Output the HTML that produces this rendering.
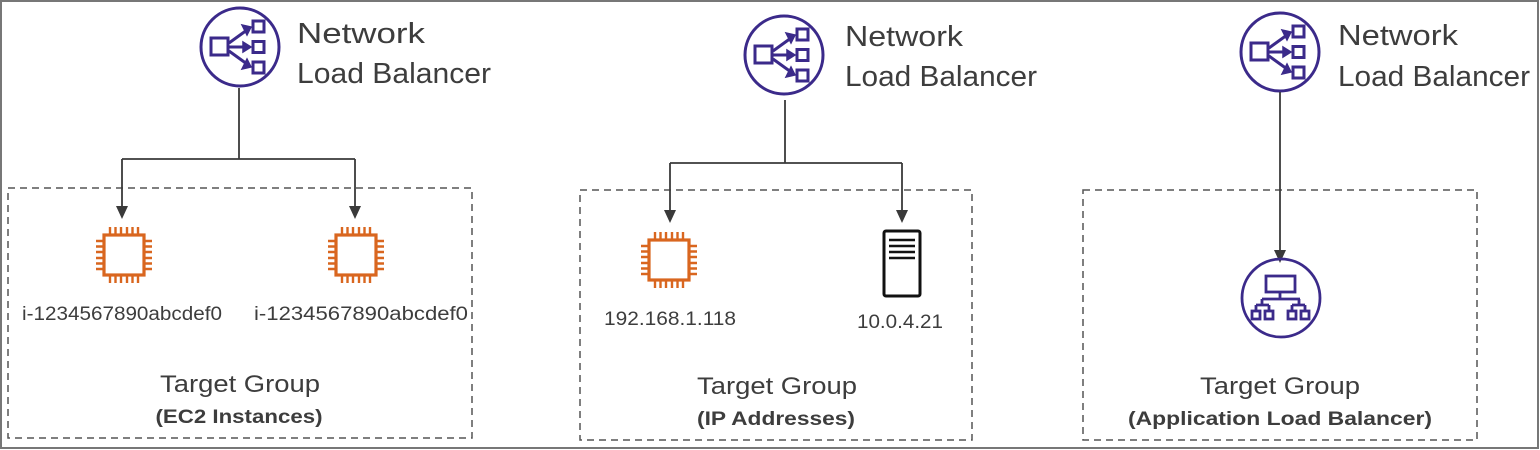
<!DOCTYPE html>
<html><head><meta charset="utf-8"><style>
html,body{margin:0;padding:0;background:#fff;}
svg{display:block;}
text{font-family:"Liberation Sans",sans-serif;fill:#3d3d3d;}
</style></head><body>
<svg width="1540" height="450" viewBox="0 0 1540 450" xmlns="http://www.w3.org/2000/svg">
<defs>
<g id="nlb">
<circle cx="0" cy="0" r="39" fill="none" stroke="#3b2a8a" stroke-width="3"/>
<rect x="-29" y="-9" width="17" height="17" fill="none" stroke="#3b2a8a" stroke-width="3"/>
<rect x="13" y="-26" width="11" height="11" fill="none" stroke="#3b2a8a" stroke-width="3"/>
<rect x="13" y="-5.5" width="11" height="11" fill="none" stroke="#3b2a8a" stroke-width="3"/>
<rect x="13" y="15" width="11" height="11" fill="none" stroke="#3b2a8a" stroke-width="3"/>
<path d="M-11,-4 L7,-17 M-11,0 L7,0 M-11,4 L7,17" stroke="#3b2a8a" stroke-width="3" fill="none"/>
<path d="M2,-22 L11,-20 L7,-12 Z M3,-5 L11,0 L3,5 Z M2,22 L11,20 L7,12 Z" fill="#3b2a8a" stroke="#3b2a8a" stroke-width="1.5"/>
</g>
<g id="chip" stroke="#d9661f" fill="none">
<rect x="-20" y="-20" width="40" height="40" stroke-width="3.2"/>
<path d="M-14,-20v-8M-8.5,-20v-8M-3,-20v-8M3,-20v-8M8.5,-20v-8M14,-20v-8
M-14,20v8M-8.5,20v8M-3,20v8M3,20v8M8.5,20v8M14,20v8
M-20,-14h-8M-20,-8.5h-8M-20,-3h-8M-20,3h-8M-20,8.5h-8M-20,14h-8
M20,-14h8M20,-8.5h8M20,-3h8M20,3h8M20,8.5h8M20,14h8" stroke-width="2.4"/>
</g>
</defs>
<rect x="1" y="1" width="1537" height="447" fill="none" stroke="#777" stroke-width="2"/>

<g fill="none" stroke="#555" stroke-width="1.5" stroke-dasharray="7,5">
<rect x="8" y="188" width="464" height="250"/>
<rect x="580" y="190" width="392" height="250"/>
<rect x="1083" y="190" width="394" height="250"/>
</g>

<use href="#nlb" x="240" y="47"/>
<text x="297" y="43" font-size="29" textLength="128" lengthAdjust="spacingAndGlyphs">Network</text>
<text x="297" y="83" font-size="29" textLength="194" lengthAdjust="spacingAndGlyphs">Load Balancer</text>
<use href="#nlb" x="784" y="55"/>
<text x="845" y="46" font-size="29" textLength="118" lengthAdjust="spacingAndGlyphs">Network</text>
<text x="845" y="86" font-size="29" textLength="192" lengthAdjust="spacingAndGlyphs">Load Balancer</text>
<use href="#nlb" x="1280" y="52"/>
<text x="1338" y="45" font-size="29" textLength="120" lengthAdjust="spacingAndGlyphs">Network</text>
<text x="1338" y="86" font-size="29" textLength="192" lengthAdjust="spacingAndGlyphs">Load Balancer</text>

<g stroke="#3a3a3a" stroke-width="1.8" fill="none">
<path d="M239,88 V159"/>
<path d="M122,159 H355"/>
<path d="M122,159 V208"/>
<path d="M355,159 V208"/>
<path d="M785,100 V163"/>
<path d="M670,163 H902"/>
<path d="M670,163 V212"/>
<path d="M902,163 V212"/>
<path d="M1280,92 V252"/>
</g>
<g fill="#3a3a3a">
<path d="M116,206 L128,206 L122,219 Z"/>
<path d="M349,206 L361,206 L355,219 Z"/>
<path d="M664,210 L676,210 L670,223 Z"/>
<path d="M896,210 L908,210 L902,223 Z"/>
<path d="M1274,250 L1286,250 L1280,263 Z"/>
</g>

<use href="#chip" x="124" y="255"/>
<use href="#chip" x="356" y="255"/>
<text x="22" y="320" font-size="19" textLength="200" lengthAdjust="spacingAndGlyphs">i-1234567890abcdef0</text>
<text x="254" y="320" font-size="19" textLength="214" lengthAdjust="spacingAndGlyphs">i-1234567890abcdef0</text>
<text x="240" y="392" font-size="24" text-anchor="middle" textLength="160" lengthAdjust="spacingAndGlyphs">Target Group</text>
<text x="239" y="423" font-size="19" font-weight="bold" text-anchor="middle" textLength="167" lengthAdjust="spacingAndGlyphs">(EC2 Instances)</text>

<use href="#chip" x="669" y="260"/>
<rect x="884" y="231" width="36" height="65" fill="none" stroke="#111" stroke-width="3" rx="2"/>
<path d="M889,240h26M889,246h26M889,252h26M889,258h26" stroke="#111" stroke-width="2.5"/>
<text x="670" y="325" font-size="19" text-anchor="middle" textLength="132" lengthAdjust="spacingAndGlyphs">192.168.1.118</text>
<text x="900" y="328" font-size="19" text-anchor="middle" textLength="86" lengthAdjust="spacingAndGlyphs">10.0.4.21</text>
<text x="777" y="394" font-size="24" text-anchor="middle" textLength="160" lengthAdjust="spacingAndGlyphs">Target Group</text>
<text x="776" y="425" font-size="19" font-weight="bold" text-anchor="middle" textLength="158" lengthAdjust="spacingAndGlyphs">(IP Addresses)</text>

<g stroke="#3b2a8a" fill="none" stroke-width="2.8">
<circle cx="1281" cy="298" r="39"/>
<rect x="1266" y="276" width="29" height="16"/>
<path d="M1280,292v7M1262,299h38M1262,299v6M1299,299v6M1256,305h13M1292,305h13M1256,305v6M1269,305v6M1292,305v6M1305,305v6"/>
<rect x="1252" y="311" width="8" height="8"/>
<rect x="1265" y="311" width="8" height="8"/>
<rect x="1288" y="311" width="8" height="8"/>
<rect x="1301" y="311" width="8" height="8"/>
</g>
<text x="1280" y="394" font-size="24" text-anchor="middle" textLength="160" lengthAdjust="spacingAndGlyphs">Target Group</text>
<text x="1280" y="425" font-size="19" font-weight="bold" text-anchor="middle" textLength="304" lengthAdjust="spacingAndGlyphs">(Application Load Balancer)</text>
</svg>
</body></html>
